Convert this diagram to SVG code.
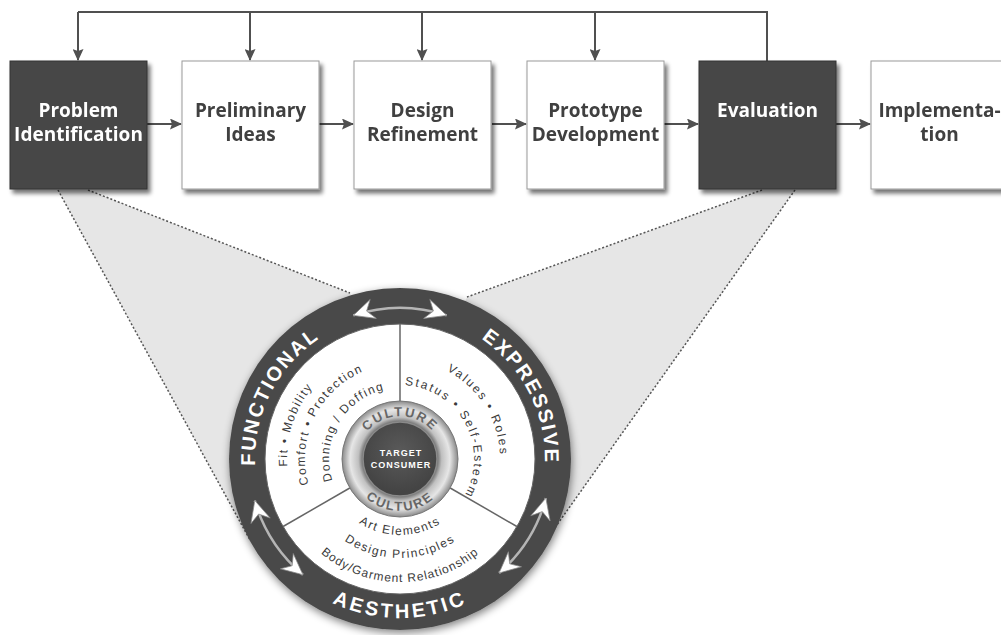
<svg xmlns="http://www.w3.org/2000/svg" xmlns:xlink="http://www.w3.org/1999/xlink" width="1001" height="635" viewBox="0 0 1001 635">
<style>
.box-light{fill:#fff;stroke:#9a9a9a;stroke-width:1}
.box-dark{fill:#474747;stroke:#333;stroke-width:1}
.lbl{font-family:"Open Sans","Liberation Sans",sans-serif;font-weight:700;font-size:19px;text-anchor:middle}
.lbl-dark{fill:#404040}
.lbl-light{fill:#fff}
.conn{stroke:#505050;stroke-width:2;fill:none}
.zoomfill{fill:#e6e6e6}
.dots{stroke:#555;stroke-width:1.5;stroke-dasharray:2 2;fill:none}
.ringtxt{font-family:"Liberation Sans",Arial,sans-serif;font-weight:700;font-size:20px;fill:#fff;letter-spacing:2px;text-anchor:middle}
.sect{font-family:"Liberation Sans",Arial,sans-serif;font-size:12px;fill:#3a3a3a;letter-spacing:1.5px;text-anchor:middle}
.cult{font-family:"Liberation Sans",Arial,sans-serif;font-weight:700;font-size:13px;fill:#666;letter-spacing:2px;text-anchor:middle}
.tc{font-family:"Liberation Sans",Arial,sans-serif;font-weight:700;font-size:9px;fill:#fff;letter-spacing:1px;text-anchor:middle}
.ringarrow{stroke:#b5b5b5;stroke-width:2.5;fill:none}
.div{stroke:#666;stroke-width:1.5}
</style>
<defs>
<filter id="shadow" x="-10%" y="-10%" width="130%" height="130%">
<feGaussianBlur in="SourceAlpha" stdDeviation="2"/>
<feOffset dx="3" dy="4" result="o"/>
<feComponentTransfer><feFuncA type="linear" slope="0.55"/></feComponentTransfer>
<feMerge><feMergeNode/><feMergeNode in="SourceGraphic"/></feMerge>
</filter>
<filter id="cshadow" x="-20%" y="-20%" width="140%" height="140%">
<feGaussianBlur in="SourceAlpha" stdDeviation="4"/>
<feOffset dx="1" dy="3"/>
<feComponentTransfer><feFuncA type="linear" slope="0.5"/></feComponentTransfer>
<feMerge><feMergeNode/><feMergeNode in="SourceGraphic"/></feMerge>
</filter>
<marker id="ah" markerUnits="userSpaceOnUse" markerWidth="12" markerHeight="11" refX="11" refY="5.5" orient="auto">
<path d="M0,0 L12,5.5 L0,11 L2,5.5 z" fill="#505050"/>
</marker>
<marker id="wa" markerUnits="userSpaceOnUse" markerWidth="24" markerHeight="20" refX="21" refY="10" orient="auto-start-reverse" overflow="visible">
<path d="M21,10 L0,0 L7,10 L0,20 z" fill="#fff" stroke="#888" stroke-width="0.7"/>
</marker>
<radialGradient id="cultg" cx="400" cy="459" r="58" gradientUnits="userSpaceOnUse">
<stop offset="0.64" stop-color="#707070"/>
<stop offset="0.72" stop-color="#c0c0c0"/>
<stop offset="0.86" stop-color="#e6e6e6"/>
<stop offset="1" stop-color="#8a8a8a"/>
</radialGradient>
<radialGradient id="tcg" cx="400" cy="452" r="40" gradientUnits="userSpaceOnUse">
<stop offset="0" stop-color="#5a5a5a"/>
<stop offset="1" stop-color="#444"/>
</radialGradient>
<path id="pFunc" d="M278.4,538 A145,145 0 0 1 392.4,314.2"/>
<path id="pExpr" d="M407.6,314.2 A145,145 0 0 1 521.6,538"/>
<path id="pAest" d="M262.3,538.5 A159,159 0 0 0 537.7,538.5"/>
<path id="pF1" d="M330.4,548 A113,113 0 0 1 396.1,346.1"/>
<path id="pF2" d="M331.7,525 A95,95 0 0 1 409.9,364.5"/>
<path id="pF3" d="M345.6,504.6 A71,71 0 0 1 412.3,389.1"/>
<path id="pE1" d="M379.2,361.2 A100,100 0 0 1 478.8,520.6"/>
<path id="pE2" d="M377.1,388.6 A74,74 0 0 1 445.6,517.3"/>
<path id="pA1" d="M328.6,485 A76,76 0 0 0 471.4,485"/>
<path id="pA2" d="M307,492.9 A99,99 0 0 0 493,492.9"/>
<path id="pA3" d="M284.4,501.1 A123,123 0 0 0 515.6,501.1"/>
<path id="pC1" d="M357.7,451.5 A43,43 0 0 1 442.3,451.5"/>
<path id="pC2" d="M348.8,468 A52,52 0 0 0 451.2,468"/>
</defs>
<rect width="1001" height="635" fill="#fff"/>

<g id="zoom-region">
<polygon class="zoomfill" points="58,190 88,190 350,293 400,459 250,540"/>
<polygon class="zoomfill" points="762,190 795,190 532,560 400,459 467,297"/>
<line class="dots" x1="58" y1="190" x2="250" y2="540"/>
<line class="dots" x1="88" y1="190" x2="350" y2="293"/>
<line class="dots" x1="762" y1="190" x2="467" y2="297"/>
<line class="dots" x1="795" y1="190" x2="532" y2="560"/>
</g>

<g id="connectors">
<path class="conn" d="M78,12 H767 V61"/>
<line class="conn" x1="78" y1="12" x2="78" y2="60" marker-end="url(#ah)"/>
<line class="conn" x1="250" y1="12" x2="250" y2="60" marker-end="url(#ah)"/>
<line class="conn" x1="422" y1="12" x2="422" y2="60" marker-end="url(#ah)"/>
<line class="conn" x1="595" y1="12" x2="595" y2="60" marker-end="url(#ah)"/>
<line class="conn" x1="147" y1="124" x2="181" y2="124" marker-end="url(#ah)"/>
<line class="conn" x1="319" y1="124" x2="353" y2="124" marker-end="url(#ah)"/>
<line class="conn" x1="492" y1="124" x2="526" y2="124" marker-end="url(#ah)"/>
<line class="conn" x1="664" y1="124" x2="698" y2="124" marker-end="url(#ah)"/>
<line class="conn" x1="836" y1="124" x2="870" y2="124" marker-end="url(#ah)"/>
</g>

<g id="node-problem" filter="url(#shadow)">
<rect class="box-dark" x="10" y="61" width="137" height="128"/>
<text class="lbl lbl-light" x="78.5" y="117">Problem</text>
<text class="lbl lbl-light" x="78.5" y="141">Identification</text>
</g>
<g id="node-preliminary" filter="url(#shadow)">
<rect class="box-light" x="182" y="61" width="137" height="128"/>
<text class="lbl lbl-dark" x="250.5" y="117">Preliminary</text>
<text class="lbl lbl-dark" x="250.5" y="141">Ideas</text>
</g>
<g id="node-design" filter="url(#shadow)">
<rect class="box-light" x="354" y="61" width="137" height="128"/>
<text class="lbl lbl-dark" x="422.5" y="117">Design</text>
<text class="lbl lbl-dark" x="422.5" y="141">Refinement</text>
</g>
<g id="node-prototype" filter="url(#shadow)">
<rect class="box-light" x="527" y="61" width="137" height="128"/>
<text class="lbl lbl-dark" x="595.5" y="117">Prototype</text>
<text class="lbl lbl-dark" x="595.5" y="141">Development</text>
</g>
<g id="node-evaluation" filter="url(#shadow)">
<rect class="box-dark" x="699" y="61" width="137" height="128"/>
<text class="lbl lbl-light" x="767.5" y="117">Evaluation</text>
</g>
<g id="node-implementation" filter="url(#shadow)">
<rect class="box-light" x="871" y="61" width="137" height="128"/>
<text class="lbl lbl-dark" x="939.5" y="117">Implementa-</text>
<text class="lbl lbl-dark" x="939.5" y="141">tion</text>
</g>

<g id="node-wheel">
<circle cx="400" cy="459" r="171" fill="#4a4a4a" filter="url(#cshadow)"/>
<circle cx="400" cy="459" r="135" fill="#fff" stroke="#666" stroke-width="1"/>
<line class="div" x1="400" y1="401" x2="400" y2="324"/>
<line class="div" x1="450.2" y1="488" x2="516.9" y2="526.5"/>
<line class="div" x1="349.8" y1="488" x2="283.1" y2="526.5"/>
<path class="ringarrow" d="M353.3,315.4 A151,151 0 0 1 446.7,315.4" marker-start="url(#wa)" marker-end="url(#wa)"/>
<path class="ringarrow" d="M254.8,500.6 A151,151 0 0 0 302.9,574.7" marker-start="url(#wa)" marker-end="url(#wa)"/>
<path class="ringarrow" d="M545.9,498.1 A151,151 0 0 1 499.1,573" marker-start="url(#wa)" marker-end="url(#wa)"/>
<text class="ringtxt"><textPath xlink:href="#pFunc" href="#pFunc" startOffset="50%">FUNCTIONAL</textPath></text>
<text class="ringtxt"><textPath xlink:href="#pExpr" href="#pExpr" startOffset="50%">EXPRESSIVE</textPath></text>
<text class="ringtxt" style="letter-spacing:3px"><textPath xlink:href="#pAest" href="#pAest" startOffset="50%">AESTHETIC</textPath></text>
<text class="sect"><textPath xlink:href="#pF1" href="#pF1" startOffset="50%">Fit • Mobility</textPath></text>
<text class="sect"><textPath xlink:href="#pF2" href="#pF2" startOffset="50%">Comfort • Protection</textPath></text>
<text class="sect"><textPath xlink:href="#pF3" href="#pF3" startOffset="50%">Donning / Doffing</textPath></text>
<text class="sect" style="letter-spacing:2px"><textPath xlink:href="#pE1" href="#pE1" startOffset="50%">Values • Roles</textPath></text>
<text class="sect" style="letter-spacing:2px"><textPath xlink:href="#pE2" href="#pE2" startOffset="50%">Status • Self-Esteem</textPath></text>
<text class="sect"><textPath xlink:href="#pA1" href="#pA1" startOffset="50%">Art Elements</textPath></text>
<text class="sect"><textPath xlink:href="#pA2" href="#pA2" startOffset="50%">Design Principles</textPath></text>
<text class="sect" style="letter-spacing:1px"><textPath xlink:href="#pA3" href="#pA3" startOffset="50%">Body/Garment Relationship</textPath></text>
<circle cx="400" cy="459" r="58" fill="url(#cultg)" stroke="#777" stroke-width="1"/>
<circle cx="400" cy="459" r="37" fill="url(#tcg)" stroke="#8a8a8a" stroke-width="1.5"/>
<text class="cult"><textPath xlink:href="#pC1" href="#pC1" startOffset="50%">CULTURE</textPath></text>
<text class="cult"><textPath xlink:href="#pC2" href="#pC2" startOffset="50%">CULTURE</textPath></text>
<text class="tc" x="401" y="456">TARGET</text>
<text class="tc" x="401" y="468">CONSUMER</text>
</g>
</svg>
